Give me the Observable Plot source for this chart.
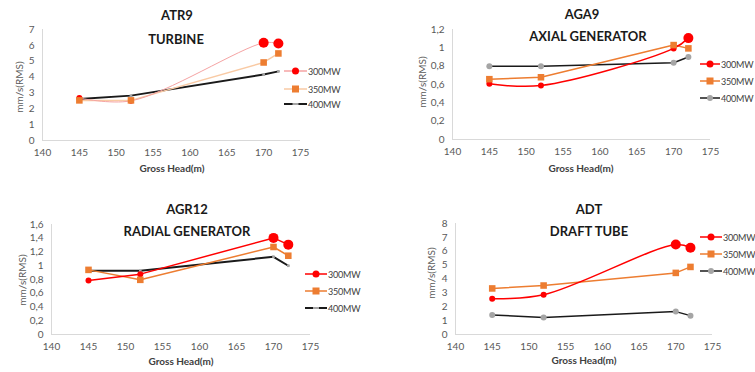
<!DOCTYPE html>
<html><head><meta charset="utf-8">
<script src="https://cdn.jsdelivr.net/npm/d3@7"></script>
<script src="https://cdn.jsdelivr.net/npm/@observablehq/plot@0.6"></script>
<style>
html,body{margin:0;padding:0;background:#fff;overflow:hidden;}
#root{position:relative;width:755px;height:372px;overflow:hidden;font-family:Lato,"Open Sans",sans-serif;}
.t{position:absolute;transform:translate(-50%,-50%);white-space:nowrap;line-height:1;}
.title{font-weight:bold;font-size:13px;color:#1a1a1a;}
.xl{font-weight:bold;font-size:10px;color:#404040;}
.yl{font-size:10px;color:#595959;transform:translate(-50%,-50%) rotate(-90deg);}
.leg{position:absolute;display:flex;align-items:center;font-size:9px;letter-spacing:-0.2px;color:#404040;white-space:nowrap;transform:translateY(-50%);line-height:1;}
.leg svg{display:block;flex-shrink:0;}
.leg span{flex-shrink:0;}
svg.p{position:absolute;}
</style></head><body><div id="root"></div>
<script>
// ---- data ----
const heads = [145, 152, 170, 172];
const seriesNames = ["300MW", "350MW", "400MW"];
const xTicks = [140, 145, 150, 155, 160, 165, 170, 175];

const atr9Title = ["ATR9", "TURBINE"];
const atr9_300 = [2.68, 2.5, 6.16, 6.12];
const atr9_350 = [2.53, 2.53, 4.92, 5.49];
const atr9_400 = [2.62, 2.83, 4.16, 4.36];
const atr9Ticks = [0, 1, 2, 3, 4, 5, 6, 7];

const aga9Title = ["AGA9", "AXIAL GENERATOR"];
const aga9_300 = [0.607, 0.589, 0.994, 1.106];
const aga9_350 = [0.658, 0.679, 1.03, 0.994];
const aga9_400 = [0.80, 0.80, 0.838, 0.90];
const aga9Ticks = [0, 0.2, 0.4, 0.6, 0.8, 1, 1.2];

const agr12Title = ["AGR12", "RADIAL GENERATOR"];
const agr12_300 = [0.785, 0.878, 1.405, 1.307];
const agr12_350 = [0.94, 0.795, 1.273, 1.146];
const agr12_400 = [0.927, 0.927, 1.13, 1.0];
const agr12Ticks = [0, 0.2, 0.4, 0.6, 0.8, 1, 1.2, 1.4, 1.6];

const adtTitle = ["ADT", "DRAFT TUBE"];
const adt_300 = [2.58, 2.86, 6.49, 6.25];
const adt_350 = [3.32, 3.53, 4.44, 4.87];
const adt_400 = [1.41, 1.22, 1.65, 1.36];
const adtTicks = [0, 1, 2, 3, 4, 5, 6, 7, 8];

const yLabel = "mm/s(RMS)";
const xLabel = "Gross Head(m)";

// ---- styling / layout ----
const RED = "#ff0000", ORANGE = "#ed7d31", GREY = "#a5a5a5", BLACK = "#1a1a1a";
const panels = [
  {title: atr9Title, vals: [atr9_300, atr9_350, atr9_400], ticks: atr9Ticks,
   left: 0, top: 0, width: 377, height: 186, mL: 42, mR: 77, mT: 29, mB: 46,
   lineColors: ["#f5a3a3", "#f9caa4", BLACK], lineW: [1, 1.5, 2], curve300: "catmull-rom",
   big: [2, 3], greyMarks: "dash",
   titlePos: [[177, 15], [176, 39]], xlPos: [172, 168], ylPos: [19, 87],
   leg: {x: 284, w: 23, ys: [71, 89, 104]}},
  {title: aga9Title, vals: [aga9_300, aga9_350, aga9_400], ticks: aga9Ticks,
   left: 375, top: 0, width: 380, height: 186, mL: 77, mR: 45, mT: 29, mB: 47,
   lineColors: [RED, ORANGE, BLACK], lineW: [1.5, 1.5, 1.5], curve300: "catmull-rom",
   big: [3], greyMarks: "dot",
   titlePos: [[582, 14], [588, 36]], xlPos: [581, 168], ylPos: [422, 82],
   leg: {x: 700, w: 20, ys: [64, 81, 98]}},
  {title: agr12Title, vals: [agr12_300, agr12_350, agr12_400], ticks: agr12Ticks,
   left: 0, top: 186, width: 377, height: 186, mL: 51, mR: 67, mT: 38, mB: 38,
   lineColors: [RED, ORANGE, BLACK], lineW: [1.5, 1.5, 2], curve300: "linear",
   big: [2, 3], greyMarks: "dash",
   titlePos: [[187, 209], [187, 231]], xlPos: [181, 361], ylPos: [22, 280],
   leg: {x: 305, w: 22, ys: [274, 291, 308]}},
  {title: adtTitle, vals: [adt_300, adt_350, adt_400], ticks: adtTicks,
   left: 375, top: 186, width: 380, height: 186, mL: 80, mR: 43, mT: 37, mB: 38,
   lineColors: [RED, ORANGE, BLACK], lineW: [1.5, 1.5, 1.5], curve300: "catmull-rom",
   big: [2, 3], greyMarks: "dot",
   titlePos: [[589, 209], [589, 231]], xlPos: [584, 360], ylPos: [431, 273],
   leg: {x: 700, w: 22, ys: [237, 254, 271]}}
];

const root = document.getElementById("root");
const fmt = d => String(+d.toFixed(1)).replace(".", ",");

function addText(cls, txt, x, y) {
  const el = document.createElement("div");
  el.className = "t " + cls;
  el.textContent = txt;
  el.style.left = x + "px";
  el.style.top = y + "px";
  root.appendChild(el);
}

function legendSwatch(k, w, p) {
  const ns = "http://www.w3.org/2000/svg";
  const svg = document.createElementNS(ns, "svg");
  svg.setAttribute("width", w); svg.setAttribute("height", 12);
  const line = document.createElementNS(ns, "line");
  line.setAttribute("x1", 0); line.setAttribute("x2", w);
  line.setAttribute("y1", 6); line.setAttribute("y2", 6);
  line.setAttribute("stroke", p.lineColors[k]);
  line.setAttribute("stroke-width", Math.max(1.5, p.lineW[k]));
  svg.appendChild(line);
  const cx = w / 2;
  if (k === 0) {
    const c = document.createElementNS(ns, "circle");
    c.setAttribute("cx", cx); c.setAttribute("cy", 6); c.setAttribute("r", 3.5);
    c.setAttribute("fill", RED); svg.appendChild(c);
  } else if (k === 1) {
    const r = document.createElementNS(ns, "rect");
    r.setAttribute("x", cx - 3.5); r.setAttribute("y", 2.5); r.setAttribute("width", 7); r.setAttribute("height", 7);
    r.setAttribute("fill", ORANGE); svg.appendChild(r);
  } else {
    if (p.greyMarks === "dot") {
      const c = document.createElementNS(ns, "circle");
      c.setAttribute("cx", cx); c.setAttribute("cy", 6); c.setAttribute("r", 3);
      c.setAttribute("fill", GREY); svg.appendChild(c);
    } else {
      const r = document.createElementNS(ns, "rect");
      r.setAttribute("x", cx - 3); r.setAttribute("y", 5); r.setAttribute("width", 6); r.setAttribute("height", 2);
      r.setAttribute("fill", GREY); svg.appendChild(r);
    }
  }
  return svg;
}

panels.forEach(p => {
  const data = [];
  p.vals.forEach((arr, k) => arr.forEach((v, i) => data.push({head: heads[i], value: v, series: seriesNames[k], i})));
  const s = name => data.filter(d => d.series === name);
  const yMax = p.ticks[p.ticks.length - 1];
  const marks = [
    Plot.ruleY([0], {stroke: "#d9d9d9", strokeWidth: 1}),
    Plot.ruleX([140], {stroke: "#d9d9d9", strokeWidth: 1}),
    Plot.axisX({ticks: xTicks, tickSize: 0, tickPadding: 8, fill: "#595959", label: null}),
    Plot.axisY({ticks: p.ticks, tickSize: 0, tickPadding: 8, fill: "#595959", label: null, tickFormat: fmt}),
    Plot.line(s("400MW"), {x: "head", y: "value", stroke: p.lineColors[2], strokeWidth: p.lineW[2]}),
    Plot.line(s("350MW"), {x: "head", y: "value", stroke: p.lineColors[1], strokeWidth: p.lineW[1]}),
    Plot.line(s("300MW"), {x: "head", y: "value", stroke: p.lineColors[0], strokeWidth: p.lineW[0], curve: p.curve300}),
  ];
  if (p.greyMarks === "dot") {
    marks.push(Plot.dot(s("400MW"), {x: "head", y: "value", r: 3, fill: GREY}));
  } else {
    marks.push(Plot.dot(s("400MW"), {x: "head", y: "value", r: 1.5, symbol: "square", fill: GREY}));
  }
  marks.push(Plot.dot(s("300MW").filter(d => !p.big.includes(d.i)), {x: "head", y: "value", r: 3, fill: RED}));
  marks.push(Plot.dot(s("350MW"), {x: "head", y: "value", r: 3.7, symbol: "square", fill: ORANGE}));
  marks.push(Plot.dot(s("300MW").filter(d => p.big.includes(d.i)), {x: "head", y: "value", r: 5, fill: RED}));

  const svg = Plot.plot({
    width: p.width, height: p.height,
    marginLeft: p.mL, marginRight: p.mR, marginTop: p.mT, marginBottom: p.mB,
    x: {domain: [140, 175]},
    y: {domain: [0, yMax]},
    style: {fontFamily: "Lato, 'Open Sans', sans-serif", fontSize: "10px", background: "transparent", overflow: "visible"},
    marks
  });
  svg.classList.add("p");
  svg.style.left = p.left + "px";
  svg.style.top = p.top + "px";
  root.appendChild(svg);

  addText("title", p.title[0], p.titlePos[0][0], p.titlePos[0][1]);
  addText("title", p.title[1], p.titlePos[1][0], p.titlePos[1][1]);
  addText("xl", xLabel, p.xlPos[0], p.xlPos[1]);
  addText("yl", yLabel, p.ylPos[0], p.ylPos[1]);

  seriesNames.forEach((name, k) => {
    const el = document.createElement("div");
    el.className = "leg";
    el.style.left = p.leg.x + "px";
    el.style.top = p.leg.ys[k] + "px";
    el.appendChild(legendSwatch(k, p.leg.w, p));
    const sp = document.createElement("span");
    sp.textContent = name;
    sp.style.marginLeft = "1px";
    el.appendChild(sp);
    root.appendChild(el);
  });
});
</script>
</body></html>
